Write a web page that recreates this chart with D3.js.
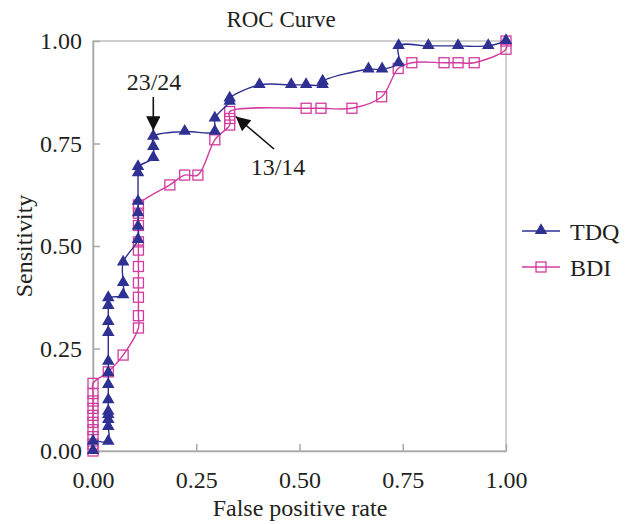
<!DOCTYPE html>
<html>
<head>
<meta charset="utf-8">
<script src="https://cdn.jsdelivr.net/npm/d3@7"></script>
<style>
  body { margin: 0; background: #fff; }
  text { font-family: "Liberation Serif", "DejaVu Serif", serif; fill: #231f20; }
</style>
</head>
<body>
<div id="chart"></div>
<script>
var width = 634, height = 524;

// TDQ curve (false positive rate, sensitivity)
var tdqFpr = [0, 0, 0.037, 0.037, 0.037, 0.037, 0.037, 0.037, 0.037, 0.037, 0.037, 0.037, 0.037, 0.037, 0.037,
    0.073, 0.073, 0.073, 0.109, 0.109, 0.109, 0.109, 0.109, 0.109, 0.146, 0.146, 0.146, 0.222, 0.295, 0.295,
    0.331, 0.331, 0.403, 0.48, 0.516, 0.556, 0.556, 0.667, 0.70, 0.74, 0.74, 0.812, 0.884, 0.957, 1];
var tdqSens = [0, 0.023, 0.023, 0.059, 0.076, 0.088, 0.096, 0.124, 0.161, 0.19, 0.218, 0.288, 0.315, 0.354, 0.373,
    0.38, 0.41, 0.46, 0.515, 0.547, 0.58, 0.608, 0.678, 0.693, 0.715, 0.742, 0.767, 0.779, 0.779, 0.811,
    0.852, 0.86, 0.893, 0.893, 0.893, 0.893, 0.901, 0.931, 0.931, 0.946, 0.988, 0.988, 0.988, 0.988, 1];

// BDI curve
var bdiFpr = [0, 0, 0, 0, 0, 0, 0, 0, 0, 0, 0.037, 0.073, 0.11, 0.11, 0.11, 0.11, 0.11, 0.11, 0.11, 0.11, 0.11, 0.11,
    0.186, 0.222, 0.254, 0.295, 0.331, 0.331, 0.331, 0.516, 0.552, 0.627, 0.699, 0.739, 0.772, 0.85, 0.884, 0.923, 1, 1];
var bdiSens = [0, 0.017, 0.035, 0.052, 0.07, 0.087, 0.104, 0.122, 0.14, 0.165, 0.193, 0.234, 0.30, 0.33, 0.375, 0.41,
    0.45, 0.49, 0.51, 0.55, 0.58, 0.60, 0.649, 0.673, 0.673, 0.759, 0.795, 0.811, 0.828, 0.836, 0.836, 0.836, 0.864,
    0.933, 0.947, 0.947, 0.947, 0.947, 0.98, 1];

var ticks = [0, 0.25, 0.5, 0.75, 1];

// cut points marked with arrows
var cutLabels = ["23/24", "13/14"];
var cutFpr = [0.146, 0.331];
var cutSens = [0.767, 0.811];

var svg = d3.select("#chart").append("svg")
    .attr("width", width)
    .attr("height", height);

var x = d3.scaleLinear().domain([0, 1]).range([93, 506]),
    y = d3.scaleLinear().domain([0, 1]).range([451, 41]);

// frame
svg.append("rect")
    .attr("x", x(0)).attr("y", y(1))
    .attr("width", x(1) - x(0)).attr("height", y(0) - y(1))
    .attr("fill", "none").attr("stroke", "#c0c0c0").attr("stroke-width", 1.5);

svg.append("g")
    .attr("transform", "translate(0," + y(0) + ")")
    .call(d3.axisBottom(x).tickValues(ticks).tickFormat(d3.format(".2f"))
        .tickSizeInner(-7).tickSizeOuter(0).tickPadding(20));
svg.append("g")
    .attr("transform", "translate(" + x(0) + ",0)")
    .call(d3.axisLeft(y).tickValues(ticks).tickFormat(d3.format(".2f"))
        .tickSizeInner(-7).tickSizeOuter(0).tickPadding(11));
svg.selectAll(".domain").attr("stroke", "#a8a8a8").attr("stroke-width", 1.5);
svg.selectAll(".tick line").attr("stroke", "#a8a8a8").attr("stroke-width", 1.5);
svg.selectAll(".tick text").attr("font-size", 24).attr("fill", "#231f20");

svg.append("text")
    .attr("x", 281).attr("y", 27)
    .attr("text-anchor", "middle").attr("font-size", 23)
    .text("ROC Curve");
svg.append("text")
    .attr("x", 300).attr("y", 516)
    .attr("text-anchor", "middle").attr("font-size", 24)
    .text("False positive rate");
svg.append("text")
    .attr("transform", "translate(32,246) rotate(-90)")
    .attr("text-anchor", "middle").attr("font-size", 24)
    .text("Sensitivity");

var series = [
    { name: "TDQ", fpr: tdqFpr, sens: tdqSens, color: "#2e3192", marker: "tri" },
    { name: "BDI", fpr: bdiFpr, sens: bdiSens, color: "#d23c9e", marker: "sq" }
];

var line = d3.line()
    .x(function (d) { return x(d[0]); })
    .y(function (d) { return y(d[1]); })
    .curve(d3.curveCatmullRom.alpha(0.5));

var triangle = d3.symbol().type(d3.symbolTriangle).size(68);

function drawMarker(g, s, px, py) {
    if (s.marker == "tri") {
        g.append("path")
            .attr("d", triangle())
            .attr("transform", "translate(" + px + "," + (py - 0.5) + ")")
            .attr("fill", s.color);
    } else {
        g.append("rect")
            .attr("x", px - 5).attr("y", py - 5)
            .attr("width", 10).attr("height", 10)
            .attr("fill", "none").attr("stroke", s.color).attr("stroke-width", 1.3);
    }
}

// BDI first so TDQ sits on top
series.slice().reverse().forEach(function (s) {
    var pts = s.fpr.map(function (f, i) { return [f, s.sens[i]]; });
    var g = svg.append("g");
    g.append("path")
        .attr("d", line(pts))
        .attr("fill", "none")
        .attr("stroke", s.color)
        .attr("stroke-width", 1.4);
    pts.forEach(function (p) { drawMarker(g, s, x(p[0]), y(p[1])); });
});

// legend
series.forEach(function (s, i) {
    var ly = 231 + i * 36;
    var lg = svg.append("g");
    lg.append("line")
        .attr("x1", 522).attr("x2", 560).attr("y1", ly).attr("y2", ly)
        .attr("stroke", s.color).attr("stroke-width", 1.4);
    drawMarker(lg, s, 541, ly);
    lg.append("text")
        .attr("x", 570).attr("y", ly + 9)
        .attr("font-size", 24)
        .text(s.name);
});

// arrows to cut points
svg.append("defs").append("marker")
    .attr("id", "head")
    .attr("viewBox", "0 0 10 10")
    .attr("refX", 10).attr("refY", 5)
    .attr("markerWidth", 11).attr("markerHeight", 9)
    .attr("markerUnits", "strokeWidth")
    .attr("orient", "auto")
    .append("path").attr("d", "M0,0 L10,5 L0,10 Z").attr("fill", "#111");

var arrowFrom = [[x(cutFpr[0]), 97], [274, 149]];
var arrowTo = [[x(cutFpr[0]), y(cutSens[0]) - 6], [x(cutFpr[1]) + 6, y(cutSens[1]) - 2]];
var labelPos = [[154, 90], [278, 175]];

cutLabels.forEach(function (lab, i) {
    svg.append("line")
        .attr("x1", arrowFrom[i][0]).attr("y1", arrowFrom[i][1])
        .attr("x2", arrowTo[i][0]).attr("y2", arrowTo[i][1])
        .attr("stroke", "#111").attr("stroke-width", 1.6)
        .attr("marker-end", "url(#head)");
    svg.append("text")
        .attr("x", labelPos[i][0]).attr("y", labelPos[i][1])
        .attr("text-anchor", "middle").attr("font-size", 24)
        .text(lab);
});
</script>
</body>
</html>
